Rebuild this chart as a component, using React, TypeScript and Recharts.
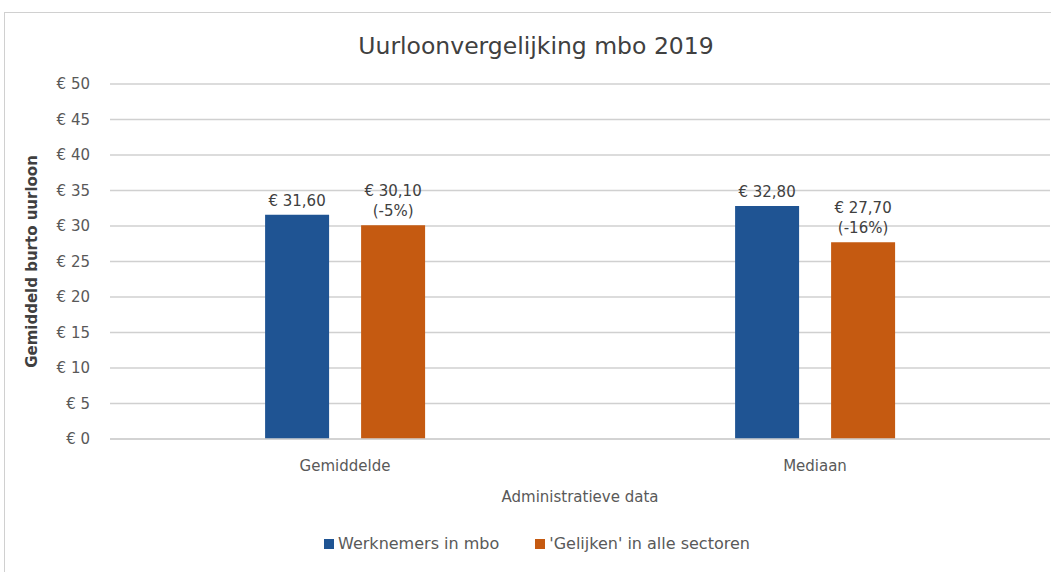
import { BarChart, Bar, XAxis, YAxis, CartesianGrid, Legend, LabelList } from 'recharts';

const categories = ['Gemiddelde', 'Mediaan'];
const werknemers = [31.6, 32.8];
const gelijken = [30.1, 27.7];
const verschil = ['-5%', '-16%'];
const yTicks = [0, 5, 10, 15, 20, 25, 30, 35, 40, 45, 50];

const BLUE = '#1f5493';
const ORANGE = '#c55a11';
const TEXT = '#595959';
const FONT = '"DejaVu Sans", Verdana, sans-serif';

const data = categories.map((c, i) => ({
  name: c,
  werknemers: werknemers[i],
  gelijken: gelijken[i],
  verschil: verschil[i],
}));

const euro = (v: number) => `€ ${v.toFixed(2).replace('.', ',')}`;

function BlueLabel(props: any) {
  const { x, y, width, value } = props;
  return (
    <text x={x + width / 2} y={y - 9} textAnchor="middle" fill="#404040" fontSize={15} fontFamily={FONT}>
      {euro(Number(value))}
    </text>
  );
}

// Orange bars carry the value plus the difference on a second line
function OrangeLabel(props: any) {
  const { x, y, width, value, index } = props;
  const cx = x + width / 2;
  return (
    <text textAnchor="middle" fill="#404040" fontSize={15} fontFamily={FONT}>
      <tspan x={cx} y={y - 29}>{euro(Number(value))}</tspan>
      <tspan x={cx} y={y - 9}>({verschil[index]})</tspan>
    </text>
  );
}

function YLabel(props: any) {
  const { viewBox } = props;
  const cx = 32;
  const cy = viewBox.y + viewBox.height / 2;
  return (
    <text
      x={cx}
      y={cy}
      transform={`rotate(-90, ${cx}, ${cy})`}
      textAnchor="middle"
      dominantBaseline="middle"
      fill="#404040"
      fontSize={15}
      fontWeight="bold"
      fontFamily={FONT}
    >
      Gemiddeld burto uurloon
    </text>
  );
}

function LegendContent() {
  const items = [
    { label: 'Werknemers in mbo', color: BLUE },
    { label: "'Gelijken' in alle sectoren", color: ORANGE },
  ];
  return (
    <div style={{ display: 'flex', justifyContent: 'center', gap: 36, fontFamily: FONT, fontSize: 16, color: TEXT, paddingLeft: 24 }}>
      {items.map((it) => (
        <div key={it.label} style={{ display: 'flex', alignItems: 'center' }}>
          <span style={{ display: 'inline-block', width: 10, height: 10, background: it.color, marginRight: 4 }} />
          <span>{it.label}</span>
        </div>
      ))}
    </div>
  );
}

export default function App() {
  return (
    <div style={{ position: 'absolute', left: 0, top: 0, width: 1051, height: 572, overflow: 'hidden', background: '#fff' }}>
      <div style={{ position: 'absolute', left: 4, top: 12, width: 1200, height: 700, borderLeft: '1.5px solid #d0d0d0', borderTop: '1.5px solid #d0d0d0' }} />
      <div style={{ position: 'absolute', left: 0, top: 32, width: 1072, textAlign: 'center', fontFamily: FONT, fontSize: 23.5, color: '#404040' }}>
        Uurloonvergelijking mbo 2019
      </div>
      <div style={{ position: 'absolute', left: 0, top: 0 }}>
        <BarChart
          width={1051}
          height={572}
          data={data}
          margin={{ top: 84, right: 1, left: 0, bottom: 13 }}
          barCategoryGap="33%"
          barGap={32}
        >
          <CartesianGrid vertical={false} stroke="#d0d0d0" strokeWidth={1.5} />
          <XAxis
            dataKey="name"
            height={90}
            tickLine={false}
            axisLine={{ stroke: '#d0d0d0', strokeWidth: 1.5 }}
            tick={{ fill: TEXT, fontSize: 15, fontFamily: FONT }}
            tickMargin={15}
            label={{ value: 'Administratieve data', position: 'insideBottom', offset: 27, fill: TEXT, fontSize: 15, fontFamily: FONT }}
          />
          <YAxis
            width={110}
            domain={[0, 50]}
            ticks={yTicks}
            interval={0}
            tickLine={false}
            axisLine={false}
            tickMargin={14}
            tickFormatter={(v: number) => `€ ${v}`}
            tick={{ fill: TEXT, fontSize: 15, fontFamily: FONT }}
            label={<YLabel />}
          />
          <Legend verticalAlign="bottom" height={30} content={<LegendContent />} wrapperStyle={{ height: 30, lineHeight: '30px' }} />
          <Bar dataKey="werknemers" name="Werknemers in mbo" fill={BLUE} isAnimationActive={false}>
            <LabelList dataKey="werknemers" content={<BlueLabel />} />
          </Bar>
          <Bar dataKey="gelijken" name="'Gelijken' in alle sectoren" fill={ORANGE} isAnimationActive={false}>
            <LabelList dataKey="gelijken" content={<OrangeLabel />} />
          </Bar>
        </BarChart>
      </div>
    </div>
  );
}
